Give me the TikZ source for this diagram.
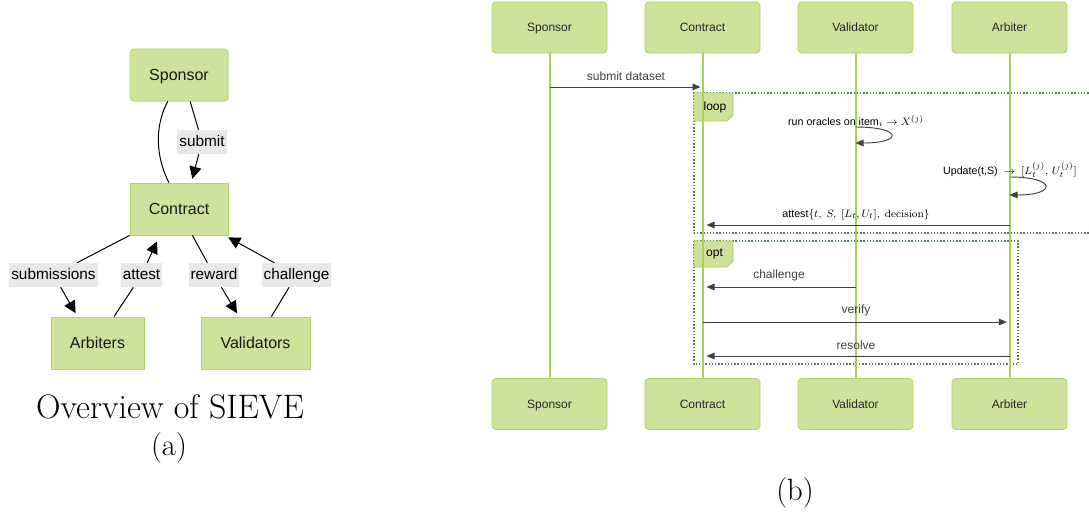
\documentclass[tikz,border=0pt]{standalone}
\usepackage{fontspec}
\newfontfamily\arialf{Liberation Sans}
\usetikzlibrary{arrows.meta,shadows}
\definecolor{boxfill}{RGB}{207,226,155}
\definecolor{boxline}{RGB}{178,212,108}
\definecolor{lifegreen}{RGB}{168,208,90}
\definecolor{framegreen}{RGB}{80,128,72}
\definecolor{lblgrey}{RGB}{232,232,232}
\definecolor{msggrey}{RGB}{64,64,64}
\begin{document}
\begin{tikzpicture}[x=0.75pt,y=-0.75pt, line join=round,
	actl/.style={draw=boxline, fill=boxfill, line width=0.6pt, minimum width=73.5pt, minimum height=39pt,
		font=\arialf\fontsize{12}{14}\selectfont, text=black!90, text height=10.8pt, text depth=2.2pt,
		drop shadow={shadow xshift=0.8pt, shadow yshift=-0.8pt, opacity=0.18}},
	lbl/.style={fill=lblgrey, inner xsep=1.5pt, inner ysep=3.5pt, text height=8.5pt, text depth=2.5pt,
		font=\arialf\fontsize{11.5}{13}\selectfont},
	edge/.style={line width=0.75pt},
	arr/.style={edge, -{Triangle[length=9pt,width=9pt]}, shorten >=3pt},
	actr/.style={draw=boxline, fill=boxfill, line width=0.7pt, rounded corners=3pt, minimum width=86.25pt,
		minimum height=38.25pt, font=\arialf\fontsize{9}{11}\selectfont, text=black!85,
		text height=8.4pt, text depth=2pt},
	life/.style={draw=lifegreen, line width=1.5pt},
	msg/.style={draw=msggrey, line width=0.7pt, -{Triangle[length=6pt,width=5pt]}},
	mlbl/.style={font=\arialf\fontsize{9}{11}\selectfont, text=msggrey},
	slbl/.style={font=\arialf\fontsize{8}{10}\selectfont, text=black},
	frame/.style={draw=framegreen, line width=1.1pt, dash pattern=on 1.1pt off 1.3pt},
	tab/.style={draw=lifegreen, fill=boxfill, line width=0.6pt},
	capt/.style={font=\rmfamily\fontsize{23}{27}\selectfont}]
	\useasboundingbox (0,0) rectangle (1089,515);
	% (a) overview
	\node[actl, rounded corners=3pt] (spon) at (179,75) {Sponsor};
	\node[actl] (cont) at (179,209) {Contract};
	\node[actl, minimum width=69.75pt] (arb) at (97.5,343) {Arbiters};
	\node[actl, minimum width=81.75pt] (val) at (255.5,343) {Validators};
	\node[lbl] (lsub) at (202,142) {submit};
	\node[lbl] (lsm) at (53.5,275) {submissions};
	\node[lbl] (latt) at (141.5,275) {attest};
	\node[lbl] (lrw) at (214,275) {reward};
	\node[lbl] (lch) at (296.5,275) {challenge};
	\draw[edge] (spon.-67) -- (lsub);
	\draw[arr] (lsub) -- (cont.65);
	\draw[edge] (spon.-113) .. controls (155,125) and (155,155) .. (cont.111);
	\draw[edge] (cont.south west) -- (lsm);
	\draw[arr] (lsm) -- (arb.127);
	\draw[edge] (arb.58) -- (latt);
	\draw[arr, shorten >=5pt] (latt) -- (cont.-126);
	\draw[edge] (cont.-63) -- (lrw);
	\draw[arr] (lrw) -- (val.122);
	\draw[edge] (val.59) -- (lch);
	\draw[arr] (lch) -- (cont.-30);
	\node[capt, font=\rmfamily\fontsize{25.5}{30}\selectfont] (capa) at (170,407) {Overview of SIEVE};
	\node[capt] (capal) at (169,448) {(a)};
	% (b) sequence
	\draw[frame] (1095,93) -- (694,93) -- (694,233) -- (1095,233);
	\draw[frame] (694,241) rectangle (1018,364);
	\draw[tab] (694,93) -- (733,93) -- (733,115) -- (727,121) -- (694,121) -- cycle;
	\draw[tab] (694,241) -- (733,241) -- (733,261) -- (727,267) -- (694,267) -- cycle;
	\foreach \n/\t/\x in {s/Sponsor/549.5, c/Contract/702.5, v/Validator/855.5, a/Arbiter/1009.5} {
		\node[actr] (t\n) at (\x,27.5) {\t};
		\node[actr] (b\n) at (\x,404) {\t};
		\draw[life] (t\n) -- (b\n);
	}
	\node[mlbl, text=black] (tloop) at (715,107) {loop};
	\node[mlbl, text=black] (topt) at (714.5,254) {opt};
	\draw[msg, shorten >=1.5pt] (ts |- 0,87) -- (tc |- 0,87) node[mlbl, midway, above=1pt] {submit dataset};
	\node[slbl] (runo) at (856,121) {run oracles on item$_i \rightarrow X^{(j)}$};
	\draw[msg] (tv |- 0,127) .. controls (903,127) and (903,143) .. (tv |- 0,143);
	\node[slbl] (upd) at (1010,170) {Update(t,S) $\;\rightarrow\ [L_t^{(j)},\, U_t^{(j)}]$};
	\draw[msg] (ta |- 0,177) .. controls (1057,177) and (1057,195) .. (ta |- 0,195);
	\draw[msg, shorten >=3pt] (ta |- 0,225) -- (tc |- 0,225)
		node[slbl, midway, above=0pt] {attest$\{t,\ S,\ [L_t,U_t],\ \mathrm{decision}\}$};
	\draw[msg, shorten >=3pt] (tv |- 0,287) -- (tc |- 0,287) node[mlbl, midway, above=1pt] {challenge};
	\draw[msg, shorten >=2pt] (tc |- 0,322) -- (ta |- 0,322) node[mlbl, midway, above=1pt] {verify};
	\draw[msg, shorten >=3pt] (ta |- 0,356) -- (tc |- 0,356) node[mlbl, midway, above=1pt] {resolve};
	\node[capt] (capb) at (795,493) {(b)};
\end{tikzpicture}
\end{document}
